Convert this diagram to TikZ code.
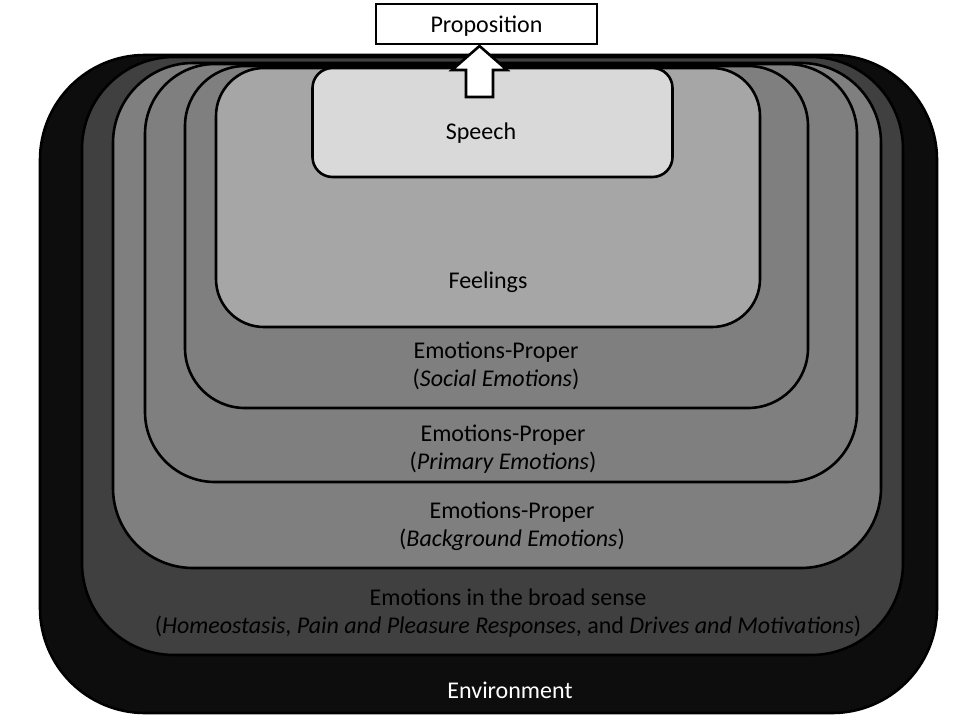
\documentclass[tikz,border=0pt]{standalone}
\usepackage{fontspec}
\setmainfont{Carlito}
\begin{document}
\begin{tikzpicture}[x=1pt,y=-1pt,
  layer/.style={draw=black, line width=2.6pt, inner sep=0pt, outer sep=0pt},
  lbl/.style={font=\fontsize{24}{28.5}\selectfont, align=center, inner sep=0pt, text=black},
  blockarrow/.style={draw=black, line width=2.6pt, fill=white, line join=miter}]
\useasboundingbox (0,0) rectangle (960,720);
\definecolor{cEnv}{HTML}{0D0D0D}
\definecolor{cBroad}{HTML}{404040}
\definecolor{cMid}{HTML}{7F7F7F}
\definecolor{cFeel}{HTML}{A6A6A6}
\definecolor{cSpeech}{HTML}{D9D9D9}
\fill[white] (0,0) rectangle (960,720);
% nested layers
\node[layer, fill=cEnv, rounded corners=105pt, minimum width=897pt, minimum height=658pt] (env) at (488.5,384) {};
\node[layer, fill=cBroad, rounded corners=92pt, minimum width=821pt, minimum height=598pt] (broad) at (492.5,356) {};
\node[layer, fill=cMid, rounded corners=80pt, minimum width=768pt, minimum height=505pt] (bg) at (497,315.5) {};
\node[layer, fill=cMid, rounded corners=70pt, minimum width=712pt, minimum height=418pt] (prim) at (501,273) {};
\node[layer, fill=cMid, rounded corners=60pt, minimum width=623pt, minimum height=342pt] (soc) at (496.5,237) {};
\node[layer, fill=cFeel, rounded corners=48pt, minimum width=544pt, minimum height=259pt] (feel) at (488,197.5) {};
\node[layer, fill=cSpeech, rounded corners=20pt, minimum width=360pt, minimum height=109pt] (speech) at (492.5,122.5) {};
\node[layer, fill=white, line width=2.2pt, minimum width=221pt, minimum height=40pt] (prop) at (486.5,24) {};
% block arrow from Speech up to Proposition
\draw[blockarrow] (466,97) -- (466,70) -- (452,70) -- (479.5,46) -- (507,70) -- (493,70) -- (493,97) -- cycle;
% labels
\node[lbl] (tprop) at (486.5,26) {Proposition};
\node[lbl] (tspeech) at (481,133) {Speech};
\node[lbl] (tfeel) at (488,282) {Feelings};
\node[lbl] (tsoc) at (496,366) {Emotions-Proper\\(\textit{Social Emotions})};
\node[lbl] (tprim) at (503,449) {Emotions-Proper\\(\textit{Primary Emotions})};
\node[lbl] (tbg) at (512,526.5) {Emotions-Proper\\(\textit{Background\ Emotions})};
\node[lbl] (tbroad) at (508,613) {Emotions in the broad sense\\(\textit{Homeostasis}, \textit{Pain and Pleasure\ Responses}, and \textit{Drives and Motivations})};
\node[lbl, text=white] (tenv) at (510,690) {Environment};
\end{tikzpicture}
\end{document}
